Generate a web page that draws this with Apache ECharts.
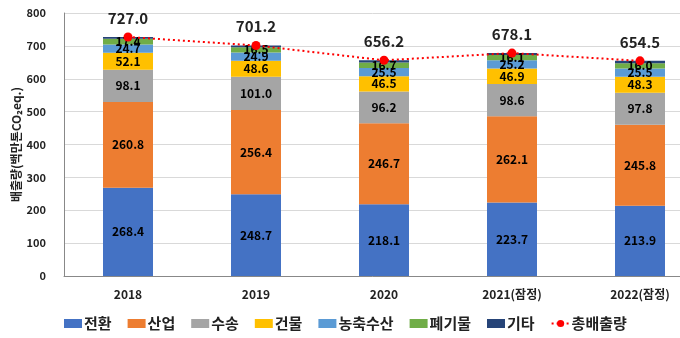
<!DOCTYPE html>
<html>
<head>
<meta charset="utf-8">
<script src="https://cdn.jsdelivr.net/npm/echarts@6/dist/echarts.min.js"></script>
<style>
  html, body { margin: 0; padding: 0; background: #fff; }
  #chart { width: 680px; height: 338px; }
</style>
</head>
<body>
<div id="chart"></div>
<script>
// Greenhouse gas emissions by sector (million t CO2eq.)
const years = ['2018', '2019', '2020', '2021(잠정)', '2022(잠정)'];
const energy = [268.4, 248.7, 218.1, 223.7, 213.9];      // 전환
const industry = [260.8, 256.4, 246.7, 262.1, 245.8];    // 산업
const transport = [98.1, 101.0, 96.2, 98.6, 97.8];       // 수송
const buildings = [52.1, 48.6, 46.5, 46.9, 48.3];        // 건물
const agriculture = [24.7, 24.9, 25.5, 25.2, 25.5];      // 농축수산
const waste = [17.4, 16.5, 16.7, 16.1, 16.0];            // 폐기물
const others = [5.5, 5.1, 6.5, 5.5, 7.2];                // 기타
const totals = [727.0, 701.2, 656.2, 678.1, 654.5];      // 총배출량
const yTicks = [0, 100, 200, 300, 400, 500, 600, 700, 800];

const FONT = '"Noto Sans CJK KR", "Noto Sans", sans-serif';

const sectors = [
  { name: '전환', data: energy, color: '#4472C4', label: true },
  { name: '산업', data: industry, color: '#ED7D31', label: true },
  { name: '수송', data: transport, color: '#A5A5A5', label: true },
  { name: '건물', data: buildings, color: '#FFC000', label: true },
  { name: '농축수산', data: agriculture, color: '#5B9BD5', label: true },
  { name: '폐기물', data: waste, color: '#70AD47', label: true },
  { name: '기타', data: others, color: '#264478', label: false }
];

const barSeries = sectors.map(s => ({
  name: s.name,
  type: 'bar',
  stack: 'total',
  barWidth: 50,
  data: s.data,
  itemStyle: { color: s.color },
  label: {
    show: s.label,
    position: 'inside',
    color: '#000',
    fontFamily: FONT,
    fontWeight: 'bold',
    fontSize: 12,
    formatter: p => p.value.toFixed(1)
  },
  emphasis: { disabled: true }
}));

const chart = echarts.init(document.getElementById('chart'), null, { renderer: 'canvas' });
chart.setOption({
  animation: false,
  backgroundColor: '#fff',
  textStyle: { fontFamily: FONT },
  // the plot runs past the right edge of the canvas
  grid: { left: 64, width: 640, top: 13, bottom: 62, containLabel: false, outerBoundsMode: 'none' },
  legend: {
    top: 316,
    left: 64,
    padding: 0,
    itemWidth: 18,
    itemHeight: 9,
    itemGap: 16,
    textStyle: { fontFamily: FONT, fontSize: 15, fontWeight: 'bold', color: '#222', padding: [0, 0, 0, -3] },
    data: sectors.map(s => ({ name: s.name, icon: 'rect' })).concat([{ name: '총배출량' }])
  },
  xAxis: {
    type: 'category',
    data: years,
    axisLine: { lineStyle: { color: '#888', width: 1 } },
    axisTick: { show: false },
    axisLabel: { color: '#222', fontFamily: FONT, fontWeight: 'bold', fontSize: 12, margin: 12 }
  },
  yAxis: {
    type: 'value',
    min: yTicks[0],
    max: yTicks[yTicks.length - 1],
    interval: 100,
    name: '배출량(백만톤CO₂eq.)',
    nameLocation: 'middle',
    nameGap: 42,
    nameMoveOverlap: false,
    nameTextStyle: { fontFamily: FONT, fontWeight: 'bold', fontSize: 12, color: '#222' },
    axisLine: { show: true, lineStyle: { color: '#888', width: 1 } },
    axisTick: { show: false },
    axisLabel: { color: '#222', fontFamily: FONT, fontWeight: 'bold', fontSize: 11, margin: 18 },
    splitLine: { lineStyle: { color: '#d9d9d9', width: 1 } }
  },
  series: barSeries.concat([{
    name: '총배출량',
    type: 'line',
    data: totals,
    symbol: 'circle',
    symbolSize: 9,
    itemStyle: { color: '#FF0000' },
    lineStyle: { color: '#FF0000', type: [2, 3], width: 2 },
    label: {
      show: true,
      position: 'top',
      distance: 7,
      color: '#222',
      fontFamily: FONT,
      fontWeight: 'bold',
      fontSize: 15,
      formatter: p => p.value.toFixed(1)
    },
    z: 5,
    emphasis: { disabled: true }
  }])
});
</script>
</body>
</html>
